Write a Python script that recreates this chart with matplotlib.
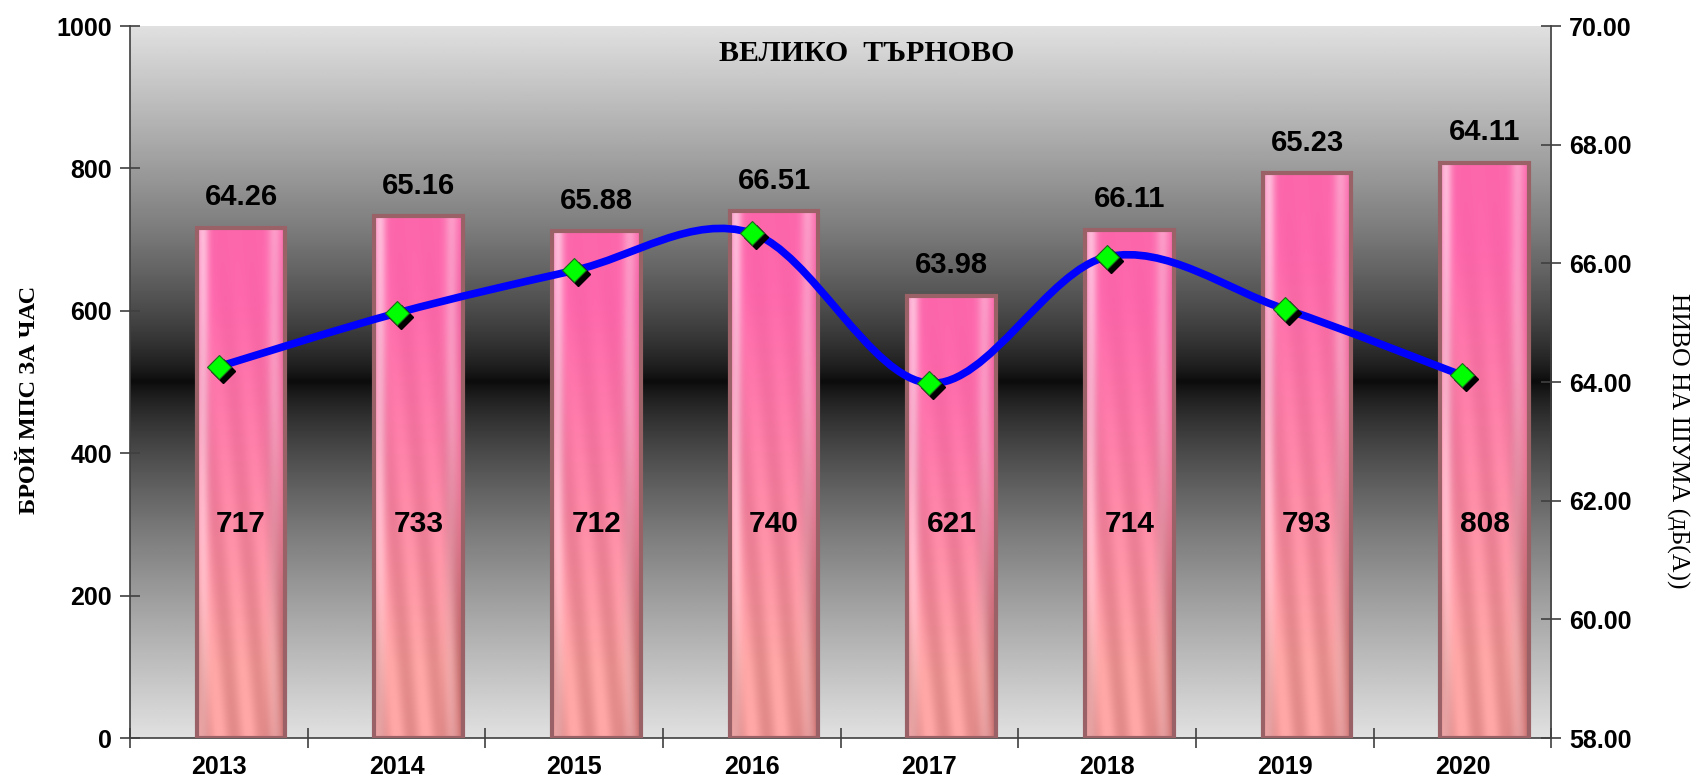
import numpy as np
import matplotlib
matplotlib.use("Agg")
import matplotlib.pyplot as plt
import matplotlib.transforms as mtransforms
from matplotlib.path import Path
from matplotlib.patches import PathPatch

years = ["2013", "2014", "2015", "2016", "2017", "2018", "2019", "2020"]
vehicles = [717, 733, 712, 740, 621, 714, 793, 808]
noise = [64.26, 65.16, 65.88, 66.51, 63.98, 66.11, 65.23, 64.11]
title = "ВЕЛИКО  ТЪРНОВО"
left_label = "БРОЙ МПС ЗА ЧАС"
right_label = "НИВО НА ШУМА (дБ(А))"

sans = ["Liberation Sans", "DejaVu Sans"]
serif = ["Liberation Serif", "DejaVu Serif"]

fig = plt.figure(figsize=(17.02, 7.81), dpi=100)
ax = fig.add_axes([0.0764, 0.055, 0.835, 0.9117])
x = np.arange(len(years))

# background gradient: light grey at edges, black around the middle
yy = np.linspace(0, 1000, 400)
d = np.abs(yy - 500) / 500.0
grey = 0.04 + 0.84 * d ** 0.75
bg = np.repeat(grey[:, None], 2, axis=1)
ax.imshow(bg, cmap="gray", vmin=0, vmax=1, origin="lower", aspect="auto",
          extent=[-0.5, 7.5, 0, 1000], zorder=0, interpolation="bilinear")

# bars (sit a little right of the category centre, as in the original)
bar_x = x + 0.125
bars = ax.bar(bar_x, vehicles, width=0.5, facecolor="none", edgecolor="#9a6166",
              linewidth=3, zorder=3)

# pink gradient inside each bar
ny, nx = 200, 60
t = np.linspace(0, 1, ny)[:, None]        # 0 bottom, 1 top
u = np.linspace(0, 1, nx)[None, :]
bottom_c = np.array([0.95, 0.60, 0.60])
top_c = np.array([0.99, 0.40, 0.67])
tt = np.clip(t * 1.4 - 0.2, 0, 1)[..., None]
img = bottom_c * (1 - tt) + top_c * tt
img = np.broadcast_to(img, (ny, nx, 3)).copy()
hl = (np.exp(-((u - 0.06) / 0.07) ** 2) * 0.55 + np.exp(-((u - 0.88) / 0.08) ** 2) * 0.35)
hl = hl * (0.4 + 0.6 * t)
img = img + (1 - img) * hl[..., None]
streak = 0.06 * np.sin((u * 6 + t * 3) * np.pi)
img = np.clip(img - streak[..., None] * (1 - t[..., None]), 0, 1)
shade = np.clip((u - 0.75) / 0.25, 0, 1) * (1 - t) * 0.18
img = np.clip(img - shade[..., None], 0, 1)
for b in bars:
    x0, y0 = b.get_x(), b.get_y()
    ax.imshow(img, origin="lower", aspect="auto", interpolation="bilinear",
              extent=[x0, x0 + b.get_width(), y0, y0 + b.get_height()], zorder=2)

ax.set_xlim(-0.5, 7.5)
ax.set_ylim(0, 1000)
ax.set_yticks([0, 200, 400, 600, 800, 1000])
ax.set_xticks(x)
ax.set_xticklabels(years)
ax.set_xticks(np.arange(-0.5, 8, 1), minor=True)
ax.tick_params(axis="x", which="major", length=0, pad=12)
ax.tick_params(axis="x", which="minor", direction="inout", length=14, color="#404040", width=1.2)
ax.tick_params(axis="y", direction="inout", length=14, color="#404040", width=1.2, pad=6)
for lab in ax.get_xticklabels() + ax.get_yticklabels():
    lab.set_family(sans)
    lab.set_fontweight("bold")
    lab.set_fontsize(18)
for s in ["top", "right"]:
    ax.spines[s].set_visible(False)
for s in ["left", "bottom"]:
    ax.spines[s].set_color("#404040")
    ax.spines[s].set_linewidth(1.2)

ax.text(-0.071, 0.475, left_label, transform=ax.transAxes, rotation=90,
        ha="center", va="center", family=serif, fontweight="bold", fontsize=17.5)
ax.text(1.089, 0.417, right_label, transform=ax.transAxes, rotation=270,
        ha="center", va="center", family=serif, fontsize=18.5)

# count labels inside bars
for xi, v in zip(bar_x, vehicles):
    ax.text(xi, 300, str(v), ha="center", va="center", family=sans,
            fontweight="bold", fontsize=21.5, zorder=5)
# noise labels above bars
for xi, v, n in zip(bar_x, vehicles, noise):
    ax.annotate(f"{n:.2f}", (xi, v), xytext=(0, 22), textcoords="offset points",
                ha="center", va="center", family=sans, fontweight="bold",
                fontsize=21, zorder=5)

ax.text(0.518, 0.961, title, transform=ax.transAxes, ha="center", va="center",
        family=serif, fontweight="bold", fontsize=21.5, zorder=5)

# secondary axis with smoothed noise line
ax2 = ax.twinx()
ax2.set_ylim(58, 70)
ax2.set_yticks(np.arange(58, 71, 2))
ax2.set_yticklabels([f"{v:.2f}" for v in np.arange(58, 71, 2)])
ax2.tick_params(axis="y", direction="inout", length=14, color="#404040", width=1.2, pad=6)
for lab in ax2.get_yticklabels():
    lab.set_family(sans)
    lab.set_fontweight("bold")
    lab.set_fontsize(18)
for s in ["top", "left", "bottom"]:
    ax2.spines[s].set_visible(False)
ax2.spines["right"].set_color("#404040")
ax2.spines["right"].set_linewidth(1.2)

# Bezier path (Catmull-Rom style control points), like a spreadsheet smoothed line
pts = np.column_stack([x, noise]).astype(float)
verts = [tuple(pts[0])]
codes = [Path.MOVETO]
for i in range(len(pts) - 1):
    p0 = pts[i - 1] if i > 0 else pts[i]
    p1, p2 = pts[i], pts[i + 1]
    p3 = pts[i + 2] if i + 2 < len(pts) else pts[i + 1]
    c1 = p1 + (p2 - p0) / 6.0
    c2 = p2 - (p3 - p1) / 6.0
    verts += [tuple(c1), tuple(c2), tuple(p2)]
    codes += [Path.CURVE4] * 3
ax2.add_patch(PathPatch(Path(verts, codes), facecolor="none", edgecolor="#0000ff",
                        lw=5.5, capstyle="round", joinstyle="round", zorder=3))

shadow = mtransforms.offset_copy(ax2.transData, fig=fig, x=4, y=-4, units="dots")
ax2.plot(x, noise, "D", color="black", markersize=12, transform=shadow, zorder=4)
ax2.plot(x, noise, "D", color="#00ff00", markeredgecolor="#1a6a1a", markeredgewidth=0.8,
         markersize=12, zorder=5)

fig.savefig("out.png", dpi=100)
